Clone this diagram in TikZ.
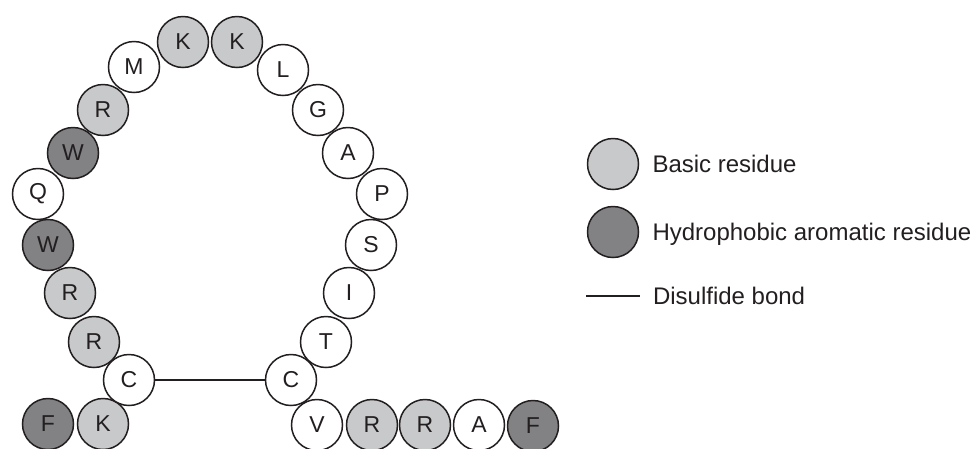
\documentclass[tikz,border=0pt]{standalone}
\usepackage{fontspec}
\setmainfont{Liberation Sans}
\usepackage{tikz}
\usetikzlibrary{positioning}

\definecolor{basicgray}{RGB}{200,201,203}
\definecolor{aromgray}{RGB}{130,130,132}
\definecolor{inkblack}{RGB}{35,31,32}

\begin{document}
\begin{tikzpicture}[x=1pt, y=-1pt, outer sep=0pt]

\tikzstyle{res}=[circle,draw=inkblack,line width=1.5pt,minimum size=51pt,inner sep=0pt,fill=white,text=inkblack,font=\fontsize{23}{27}\selectfont]
\tikzstyle{basic}=[res,fill=basicgray]
\tikzstyle{arom}=[res,fill=aromgray]
\tikzstyle{legtext}=[inner sep=0pt,text height=17pt,text depth=0pt,text=inkblack,font=\fontsize{24}{28}\selectfont]

\useasboundingbox (0,0) rectangle (975,448);

% loop, left side
\node[arom]  (f1)  at (48,424)  {F};
\node[basic] (k2)  at (103,424) {K};
\node[res]   (c3)  at (129,380) {C};
\node[basic] (r4)  at (94,342)  {R};
\node[basic] (r5)  at (70,293)  {R};
\node[arom]  (w6)  at (48,245)  {W};
\node[res]   (q7)  at (38,194)  {Q};
\node[arom]  (w8)  at (73,153)  {W};
\node[basic] (r9)  at (103,110) {R};
\node[res]   (m10) at (134,67)  {M};
\node[basic] (k11) at (183,42)  {K};
\node[basic] (k12) at (237,42)  {K};
% loop, right side
\node[res]   (l13) at (283,70)  {L};
\node[res]   (g14) at (318,110) {G};
\node[res]   (a15) at (348,153) {A};
\node[res]   (p16) at (382,194) {P};
\node[res]   (s17) at (371,245) {S};
\node[res]   (i18) at (349,293) {I};
\node[res]   (t19) at (326,342) {T};
\node[res]   (c20) at (291,380) {C};
% tail
\node[res]   (v21) at (317,425) {V};
\node[basic] (r22) at (372,425) {R};
\node[basic] (r23) at (425,425) {R};
\node[res]   (a24) at (479,425) {A};
\node[arom]  (f25) at (533,426) {F};

\draw[line width=1.5pt,draw=inkblack] (c3.east)--(c20.west);

% legend
\node[basic] (legbasic) at (613,164) {};
\node[arom]  (legarom)  at (613,232) {};
\coordinate (bondA) at (586,296);
\coordinate (bondB) at (640,296);
\draw[line width=1.5pt,draw=inkblack] (bondA)--(bondB);

\node[legtext,right=14pt of legbasic] {Basic residue};
\node[legtext,right=14pt of legarom] {Hydrophobic aromatic residue};
\node[legtext,right=13pt of bondB] {Disulfide bond};
\end{tikzpicture}
\end{document}
